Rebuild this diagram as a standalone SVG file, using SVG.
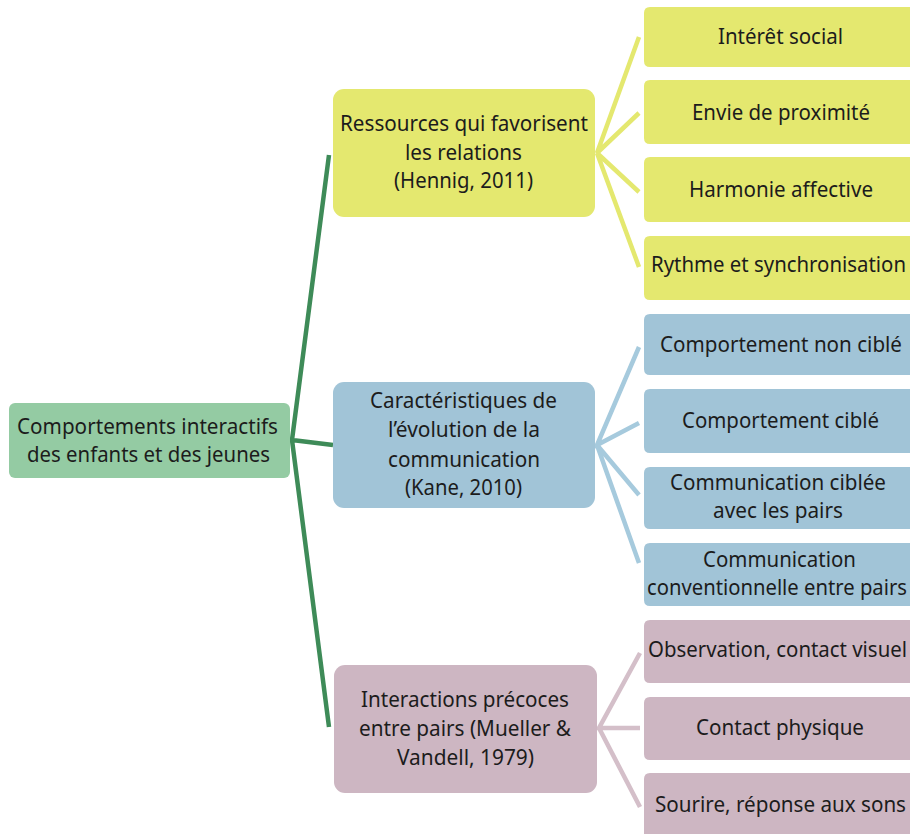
<svg xmlns="http://www.w3.org/2000/svg" width="910" height="834" viewBox="0 0 910 834">
<style>
text{font-family:"Noto Sans","Open Sans","DejaVu Sans",sans-serif;font-size:22px;fill:#1c1c1c}
.g{fill:#94cba3}
.y{fill:#e4e86f}
.b{fill:#a1c4d7}
.p{fill:#cdb6c2}
.c{fill:none;stroke-width:4.5;stroke-linecap:butt;stroke-linejoin:miter}
</style>
<rect width="910" height="834" fill="#ffffff"/>
<g id="connectors">
<path class="c" stroke="#3e8b58" d="M329,155 L292,440 L329,727 M292,440 L333,445"/>
<path class="c" stroke="#e4e86f" d="M639,37 L597,153 L639,113 M597,153 L639,192 M597,153 L639,267"/>
<path class="c" stroke="#a6cadd" d="M639,347 L597,445 L639,423 M597,445 L639,495 M597,445 L639,563"/>
<path class="c" stroke="#d4bfc9" d="M640,653 L599,728 L640,728 M599,728 L640,807"/>
</g>
<g id="root">
<rect class="g" x="9" y="403" width="281" height="75" rx="6"/>
<text x="17" y="434" textLength="261" lengthAdjust="spacingAndGlyphs">Comportements interactifs</text>
<text x="27" y="462" textLength="243" lengthAdjust="spacingAndGlyphs">des enfants et des jeunes</text>
</g>
<g id="ressources">
<rect class="y" x="333" y="89" width="262" height="128" rx="11"/>
<text x="340" y="131" textLength="248" lengthAdjust="spacingAndGlyphs">Ressources qui favorisent</text>
<text x="405" y="160" textLength="117" lengthAdjust="spacingAndGlyphs">les relations</text>
<text x="394" y="188" textLength="139" lengthAdjust="spacingAndGlyphs">(Hennig, 2011)</text>
</g>
<g id="caracteristiques">
<rect class="b" x="333" y="382" width="262" height="126" rx="11"/>
<text x="370" y="408" textLength="187" lengthAdjust="spacingAndGlyphs">Caractéristiques de</text>
<text x="388" y="437" textLength="152" lengthAdjust="spacingAndGlyphs">l’évolution de la</text>
<text x="388" y="467" textLength="152" lengthAdjust="spacingAndGlyphs">communication</text>
<text x="405" y="495" textLength="117" lengthAdjust="spacingAndGlyphs">(Kane, 2010)</text>
</g>
<g id="interactions">
<rect class="p" x="334" y="665" width="263" height="128" rx="11"/>
<text x="361" y="707" textLength="208" lengthAdjust="spacingAndGlyphs">Interactions précoces</text>
<text x="359" y="736" textLength="212" lengthAdjust="spacingAndGlyphs">entre pairs (Mueller &amp;</text>
<text x="397" y="765" textLength="137" lengthAdjust="spacingAndGlyphs">Vandell, 1979)</text>
</g>
<g id="interet-social">
<path class="y" d="M650,7 H910 V67 H650 Q644,67 644,61 V13 Q644,7 650,7 Z"/>
<text x="718" y="44" textLength="125" lengthAdjust="spacingAndGlyphs">Intérêt social</text>
</g>
<g id="envie-proximite">
<path class="y" d="M650,80 H910 V144 H650 Q644,144 644,138 V86 Q644,80 650,80 Z"/>
<text x="692" y="120" textLength="178" lengthAdjust="spacingAndGlyphs">Envie de proximité</text>
</g>
<g id="harmonie-affective">
<path class="y" d="M650,157 H910 V222 H650 Q644,222 644,216 V163 Q644,157 650,157 Z"/>
<text x="689" y="197" textLength="184" lengthAdjust="spacingAndGlyphs">Harmonie affective</text>
</g>
<g id="rythme">
<path class="y" d="M650,236 H910 V300 H650 Q644,300 644,294 V242 Q644,236 650,236 Z"/>
<text x="651" y="272" textLength="255" lengthAdjust="spacingAndGlyphs">Rythme et synchronisation</text>
</g>
<g id="comportement-non-cible">
<path class="b" d="M650,314 H910 V375 H650 Q644,375 644,369 V320 Q644,314 650,314 Z"/>
<text x="660" y="352" textLength="242" lengthAdjust="spacingAndGlyphs">Comportement non ciblé</text>
</g>
<g id="comportement-cible">
<path class="b" d="M650,389 H910 V453 H650 Q644,453 644,447 V395 Q644,389 650,389 Z"/>
<text x="682" y="428" textLength="197" lengthAdjust="spacingAndGlyphs">Comportement ciblé</text>
</g>
<g id="communication-ciblee">
<path class="b" d="M650,467 H910 V529 H650 Q644,529 644,523 V473 Q644,467 650,467 Z"/>
<text x="670" y="490" textLength="216" lengthAdjust="spacingAndGlyphs">Communication ciblée</text>
<text x="713" y="518" textLength="130" lengthAdjust="spacingAndGlyphs">avec les pairs</text>
</g>
<g id="communication-conventionnelle">
<path class="b" d="M650,543 H910 V606 H650 Q644,606 644,600 V549 Q644,543 650,543 Z"/>
<text x="703" y="567" textLength="153" lengthAdjust="spacingAndGlyphs">Communication</text>
<text x="647" y="595" textLength="260" lengthAdjust="spacingAndGlyphs">conventionnelle entre pairs</text>
</g>
<g id="observation">
<path class="p" d="M650,620 H910 V683 H650 Q644,683 644,677 V626 Q644,620 650,620 Z"/>
<text x="648" y="657" textLength="259" lengthAdjust="spacingAndGlyphs">Observation, contact visuel</text>
</g>
<g id="contact-physique">
<path class="p" d="M650,697 H910 V760 H650 Q644,760 644,754 V703 Q644,697 650,697 Z"/>
<text x="696" y="735" textLength="168" lengthAdjust="spacingAndGlyphs">Contact physique</text>
</g>
<g id="sourire">
<path class="p" d="M650,773 H910 V834 H644 V779 Q644,773 650,773 Z"/>
<text x="655" y="812" textLength="251" lengthAdjust="spacingAndGlyphs">Sourire, réponse aux sons</text>
</g>
</svg>
